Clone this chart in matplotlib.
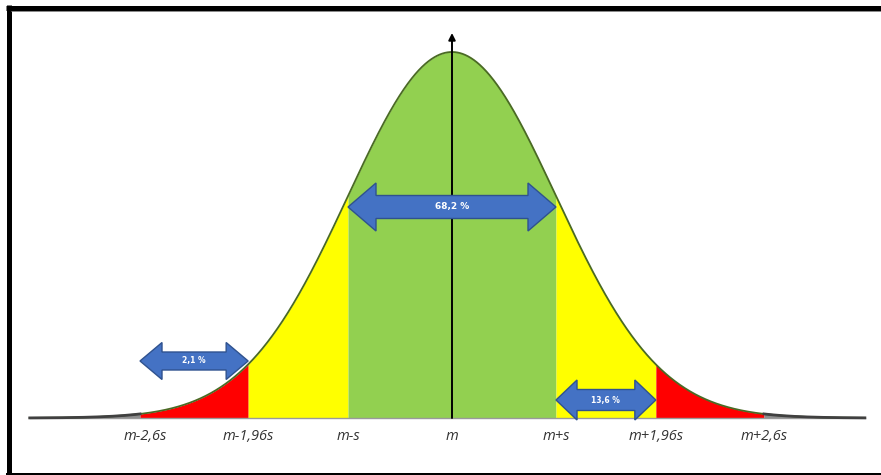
import numpy as np
import matplotlib
matplotlib.use("Agg")
import matplotlib.pyplot as plt
from matplotlib.patches import Polygon
from matplotlib.lines import Line2D

# ---- data ----
mean = 0.0
sd = 1.0
region_edges = [-4.0, -3.0, -1.96, -1.0, 1.0, 1.96, 3.0, 4.0]
region_colors = ["#8c8c8c", "#ff0000", "#ffff00", "#92d050", "#ffff00", "#ff0000", "#8c8c8c"]
tick_pos = [-2.95, -1.96, -1.0, 0.0, 1.0, 1.96, 3.0]
tick_labels = ["m-2,6s", "m-1,96s", "m-s", "m", "m+s", "m+1,96s", "m+2,6s"]
arrow_spans = [(-1.0, 1.0), (-3.0, -1.96), (1.0, 1.96)]
arrow_texts = ["68,2 %", "2,1 %", "13,6 %"]

W, H = 881, 475
fig = plt.figure(figsize=(W / 100, H / 100), dpi=100)
fig.patch.set_facecolor("white")

# axes placement in pixels
px_left, px_right, px_top, px_bot = 12, 880, 12, 470
x0_px, sig_px = 452, 104.0
base_px, peak_px = 418, 52
ax = fig.add_axes([px_left / W, 1 - px_bot / H, (px_right - px_left) / W, (px_bot - px_top) / H])
ax.set_xlim((px_left - x0_px) / sig_px, (px_right - x0_px) / sig_px)
hpx = base_px - peak_px
ax.set_ylim(-(px_bot - base_px) / hpx, (base_px - px_top) / hpx)
ax.axis("off")

xs = np.linspace(-4.06, 3.97, 2000)
pdf = lambda x: np.exp(-0.5 * ((x - mean) / sd) ** 2)
ys = pdf(xs)

for i, c in enumerate(region_colors):
    a, b = region_edges[i], region_edges[i + 1]
    if i == 0:
        a = xs[0]
    if i == len(region_colors) - 1:
        b = xs[-1]
    xx = np.linspace(a, b, 400)
    ax.fill_between(xx, 0, pdf(xx), color=c, lw=0, zorder=2)

# baseline
ax.plot([xs[0], xs[-1]], [0, 0], color="#9a9a9a", lw=1.0, zorder=3)
# curve outline
ax.plot(xs, ys, color="#4a6a24", lw=1.3, zorder=4)
# tails darker line
for lo, hi in [(xs[0], -3.0), (3.0, xs[-1])]:
    xx = np.linspace(lo, hi, 200)
    ax.plot(xx, pdf(xx), color="#404040", lw=2.0, zorder=4)

# vertical axis with arrow
ax.annotate("", xy=(0, (base_px - 33) / hpx), xytext=(0, 0),
            arrowprops=dict(arrowstyle="-|>", color="black", lw=1.4,
                            mutation_scale=10, shrinkA=0, shrinkB=0), zorder=6)

# tick labels
for p, lab in zip(tick_pos, tick_labels):
    ax.text(p, -(436 - base_px) / hpx, lab, ha="center", va="center",
            fontsize=10.5, style="italic", color="#333333",
            family="Open Sans", zorder=5)

# double arrows
def dbl_arrow(x1, x2, yc_px, body_px, head_px, headlen_px, text, fs):
    dx = headlen_px / sig_px
    yc = (base_px - yc_px) / hpx
    bh = body_px / 2 / hpx
    hh = head_px / 2 / hpx
    pts = [(x1, yc), (x1 + dx, yc + hh), (x1 + dx, yc + bh), (x2 - dx, yc + bh),
           (x2 - dx, yc + hh), (x2, yc), (x2 - dx, yc - hh), (x2 - dx, yc - bh),
           (x1 + dx, yc - bh), (x1 + dx, yc - hh)]
    ax.add_patch(Polygon(pts, closed=True, facecolor="#4472c4", edgecolor="#2f528f",
                         lw=1.0, zorder=7))
    ax.text((x1 + x2) / 2, yc, text, ha="center", va="center", color="white",
            fontsize=fs, fontweight="bold", zorder=8)

arrow_geom = [(207, 23, 48, 28, 6.5), (361, 18, 37, 22, 5.5), (400, 21, 40, 21, 5.5)]
for (a, b), t, g in zip(arrow_spans, arrow_texts, arrow_geom):
    dbl_arrow(a, b, g[0], g[1], g[2], g[3], t, g[4])

# partial black frame (top, left, bottom)
def fline(x1, y1, x2, y2, lw_px, color="black"):
    fig.add_artist(Line2D([x1 / W, x2 / W], [1 - y1 / H, 1 - y2 / H],
                          transform=fig.transFigure, color=color,
                          lw=lw_px * 0.72, solid_capstyle="butt"))

fline(6, 7.5, 881, 7.5, 5)
fline(8.5, 5, 8.5, 475, 5)
fline(6, 473.5, 881, 473.5, 2)
fline(11, 10.5, 881, 10.5, 1, color="#8a8a8a")

fig.savefig("out.png", dpi=100, facecolor="white")
